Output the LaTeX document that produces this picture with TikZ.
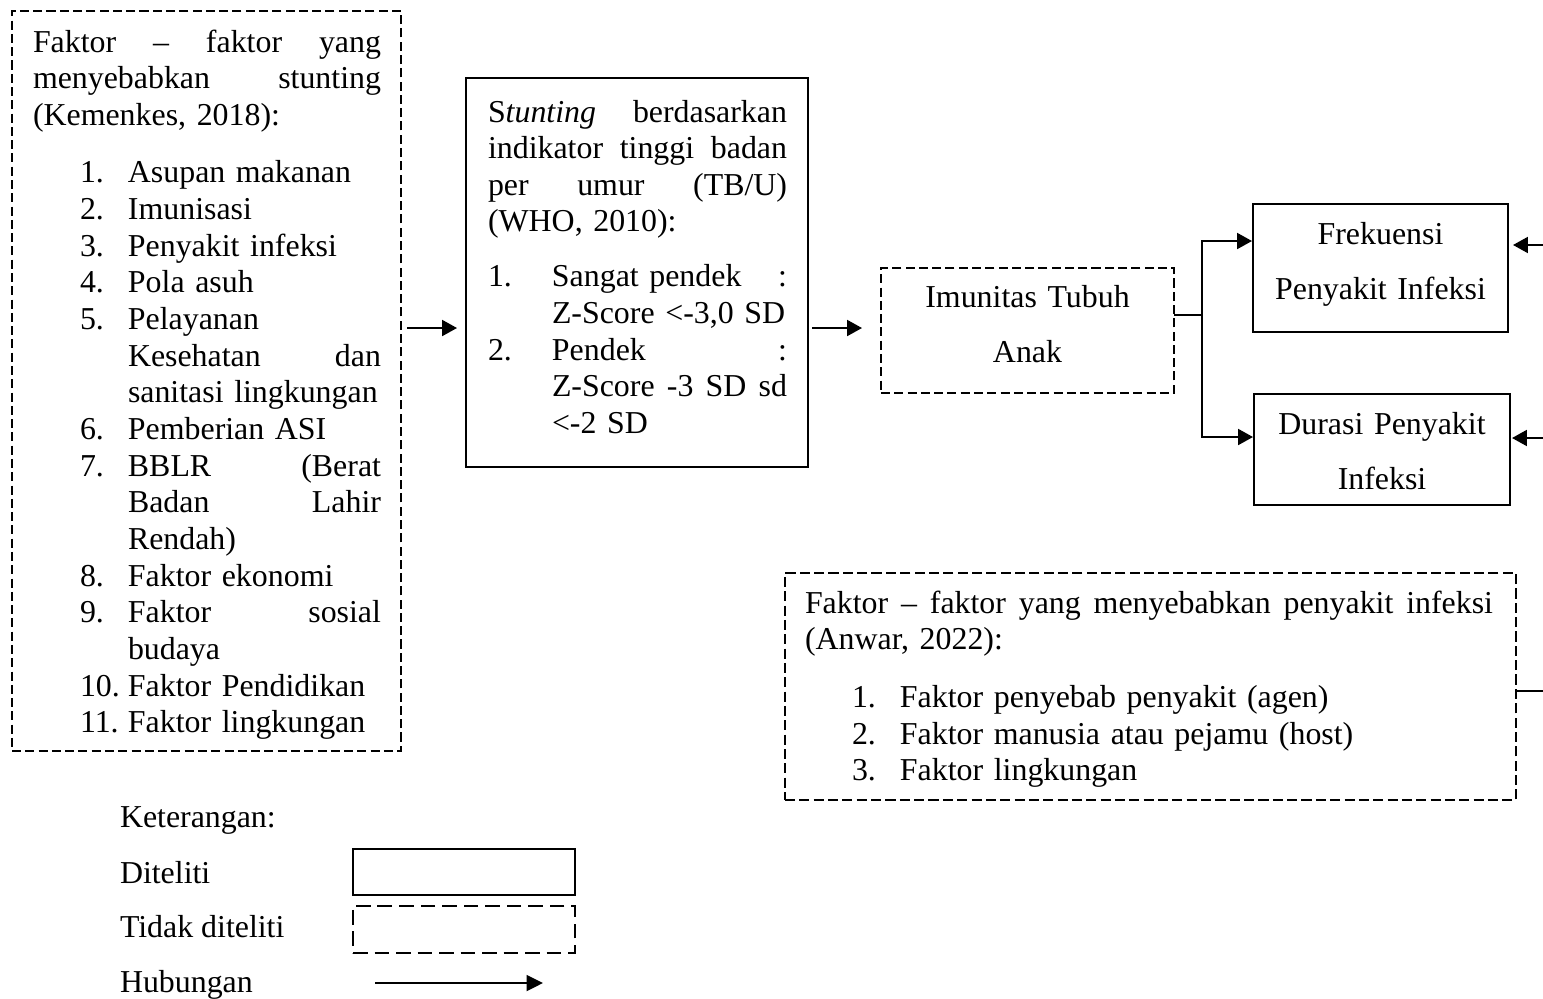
\documentclass[tikz,border=0pt]{standalone}
\usepackage{fontspec}
\setmainfont{Liberation Serif}
\usetikzlibrary{arrows.meta}
\newlength{\pxu}\setlength{\pxu}{0.3764pt}
\newcommand{\lnum}[1]{\hspace*{47\pxu}\makebox[48\pxu][l]{#1}}
\newcommand{\lcont}{\hspace*{95\pxu}}
\newcommand{\mnum}[1]{\makebox[64\pxu][l]{#1}}
\newcommand{\mcont}{\hspace*{64\pxu}}
\begin{document}
\begin{tikzpicture}[x=1\pxu,y=-1\pxu,
  txt/.style={inner sep=0pt, outer sep=0pt, font=\fontsize{12pt}{13.8pt}\selectfont, align=left, anchor=base west},
  ctxt/.style={inner sep=0pt, outer sep=0pt, font=\fontsize{12pt}{20.7pt}\selectfont, align=center, anchor=base},
  solidbox/.style={draw, line width=0.75pt, inner sep=0pt, outer sep=0pt},
  dashbox/.style={draw, line width=0.45pt, dash pattern=on 3.4pt off 1.6pt, inner sep=0pt, outer sep=0pt},
  conn/.style={line width=0.75pt},
  arr/.style={conn, -{Triangle[length=5.6pt,width=6pt]}}]
\useasboundingbox (0,0) rectangle (1543,998);

% boxes
\node[dashbox, minimum width=389\pxu, minimum height=740\pxu] (Lbox) at (206.5,381) {};
\node[solidbox, minimum width=342\pxu, minimum height=389\pxu] (Mbox) at (637,272.5) {};
\node[dashbox, minimum width=293\pxu, minimum height=125\pxu] (Ibox) at (1027.5,330.5) {};
\node[solidbox, minimum width=255\pxu, minimum height=128\pxu] (Fbox) at (1380.5,268) {};
\node[solidbox, minimum width=256\pxu, minimum height=111\pxu] (Dbox) at (1382,449.5) {};
\node[dashbox, dash pattern=on 3.8pt off 1.6pt, minimum width=731\pxu, minimum height=227\pxu] (Bbox) at (1150.5,686.5) {};

% texts
\node[txt, text width=348\pxu] (Ltxt) at (33,52) {%
Faktor\hfill\textendash\hfill faktor\hfill yang\\
menyebabkan\hfill stunting\\
(Kemenkes, 2018):\\[21\pxu]
\lnum{1.}Asupan makanan\\
\lnum{2.}Imunisasi\\
\lnum{3.}Penyakit infeksi\\
\lnum{4.}Pola asuh\\
\lnum{5.}Pelayanan\\
\lcont Kesehatan\hfill dan\\
\lcont sanitasi lingkungan\\
\lnum{6.}Pemberian ASI\\
\lnum{7.}BBLR\hfill (Berat\\
\lcont Badan\hfill Lahir\\
\lcont Rendah)\\
\lnum{8.}Faktor ekonomi\\
\lnum{9.}Faktor\hfill sosial\\
\lcont budaya\\
\lnum{10.}Faktor Pendidikan\\
\lnum{11.}Faktor lingkungan};

\node[txt, text width=299\pxu] (Mtxt) at (488,122) {%
S\textit{tunting}\hfill berdasarkan\\
indikator\hfill tinggi\hfill badan\\
per\hfill umur\hfill (TB/U)\\
(WHO, 2010):\\[18.3\pxu]
\mnum{1.}Sangat pendek\hfill :\\
\mcont Z-Score <-3,0 SD\\
\mnum{2.}Pendek\hfill :\\
\mcont Z-Score\hfill -3\hfill SD\hfill sd\\
\mcont <-2 SD};

\node[ctxt, text width=293\pxu] (Itxt) at (1027.5,307) {Imunitas Tubuh\\Anak};
\node[ctxt, text width=255\pxu] (Ftxt) at (1380.5,244) {Frekuensi\\Penyakit Infeksi};
\node[ctxt, text width=256\pxu] (Dtxt) at (1382,434) {Durasi Penyakit\\Infeksi};

\node[txt, text width=688\pxu] (Btxt) at (805,613) {%
Faktor\hfill\textendash\hfill faktor\hfill yang\hfill menyebabkan\hfill penyakit\hfill infeksi\\
(Anwar, 2022):\\[21\pxu]
\lnum{1.}Faktor penyebab penyakit (agen)\\
\lnum{2.}Faktor manusia atau pejamu (host)\\
\lnum{3.}Faktor lingkungan};

% connectors
\coordinate (ya) at (0,328);
\draw[arr] ([xshift=6\pxu]Lbox.east |- ya) -- ([xshift=-9\pxu]Mbox.west |- ya);
\draw[arr] ([xshift=4\pxu]Mbox.east |- ya) -- ([xshift=-19\pxu]Ibox.west |- ya);

\coordinate (j) at (1202,315);
\coordinate (yF) at (0,241);
\coordinate (yD) at (0,437);
\draw[conn] (Ibox.east |- j) -- (j);
\draw[arr] (j) |- ([xshift=-1\pxu]Fbox.west |- yF);
\draw[arr] (j) |- ([xshift=-1\pxu]Dbox.west |- yD);

\coordinate (e1) at (1543,245);
\coordinate (e2) at (1543,438);
\coordinate (e3) at (1543,691);
\draw[arr] (e1) -- ([xshift=5\pxu]Fbox.east |- e1);
\draw[arr] (e2) -- ([xshift=2\pxu]Dbox.east |- e2);
\draw[conn] (Bbox.east |- e3) -- (e3);

% legend
\node[txt] (k0) at (120,827) {Keterangan:};
\node[txt] (k1) at (120,883) {Diteliti};
\node[txt] (k2) at (120,937) {Tidak diteliti};
\node[txt] (k3) at (120,992) {Hubungan};
\node[solidbox, minimum width=222\pxu, minimum height=46\pxu] (lg1) at (464,872) {};
\node[dashbox, line width=0.75pt, dash pattern=on 5.5pt off 2.6pt, minimum width=222\pxu, minimum height=47\pxu] (lg2) at (464,929.5) {};
\coordinate (la) at (375,983);
\coordinate (lb) at (543,983);
\draw[conn, -{Triangle[length=6.2pt,width=6pt]}] (la) -- (lb);
\end{tikzpicture}
\end{document}
